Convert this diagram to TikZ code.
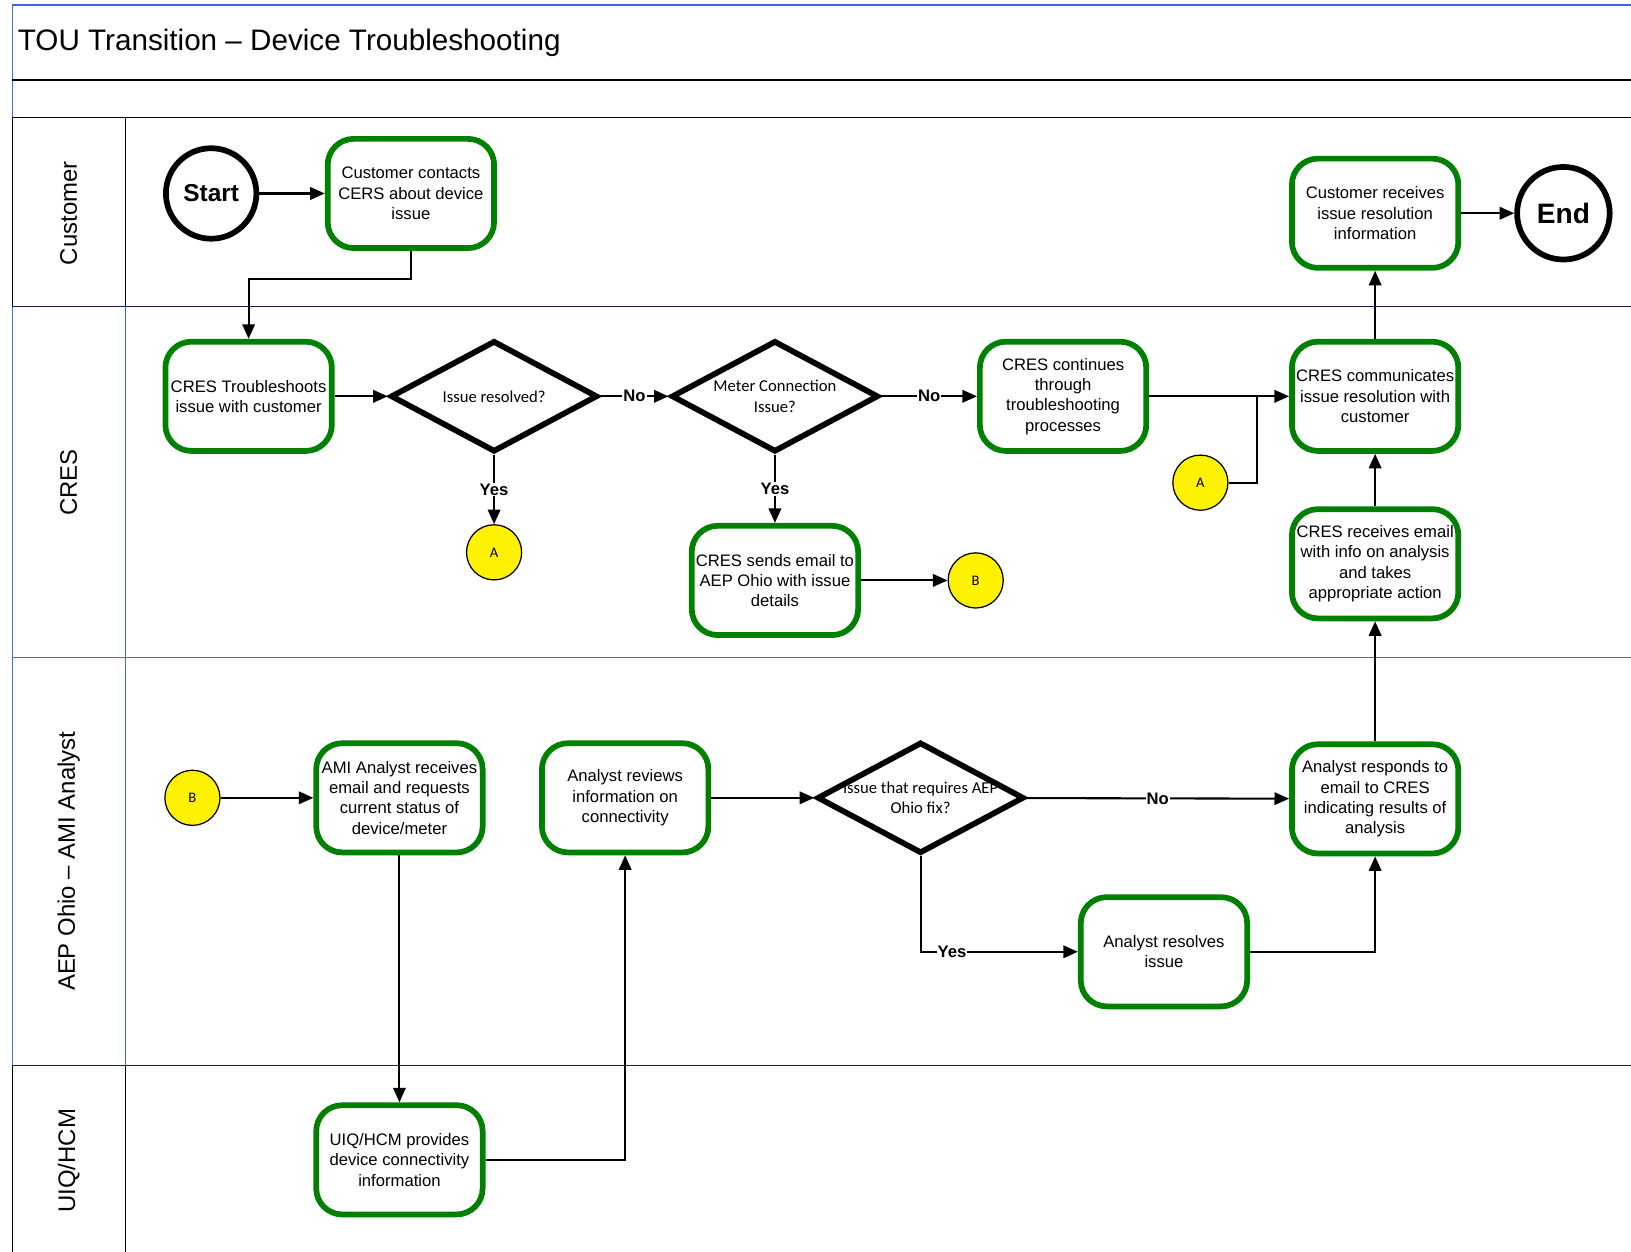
\documentclass[tikz,border=0pt]{standalone}
\usepackage{fontspec}
\setmainfont{Liberation Sans}
\newfontfamily\calib{Carlito}
\usetikzlibrary{arrows.meta,shapes.geometric}
\definecolor{lblue}{RGB}{65,105,225}
\definecolor{pgreen}{RGB}{0,128,0}
\definecolor{navy}{RGB}{20,30,70}
\begin{document}
\begin{tikzpicture}[x=1pt,y=-1pt,
 proc/.style={draw=pgreen, line width=5.5pt, rounded corners=25pt, minimum width=160pt, minimum height=105pt, align=center, font=\fontsize{16}{19.5}\selectfont, inner sep=0pt, fill=white},
 dia/.style={diamond, draw=black, line width=5.5pt, minimum width=199pt, minimum height=107pt, inner sep=0pt, fill=white},
 dtext/.style={align=center, font=\calib\fontsize{16}{19.5}\selectfont, inner sep=0pt},
 term/.style={circle, draw=black, line width=5.5pt, minimum size=87pt, inner sep=0pt, fill=white, font=\bfseries\fontsize{23.5}{26}\selectfont},
 conn/.style={circle, draw=black, line width=1.2pt, fill=yellow, minimum size=53pt, inner sep=0pt, font=\calib\fontsize{14}{16}\selectfont},
 arr/.style={line width=2pt, -{Triangle[length=14pt,width=12pt]}},
 ln/.style={line width=2pt},
 lbl/.style={fill=white, inner sep=1pt, font=\bfseries\fontsize{16}{18}\selectfont},
 lane/.style={font=\fontsize{23}{26}\selectfont, rotate=90, inner sep=0pt},
 bline/.style={line width=1.2pt},
]
\useasboundingbox (0,0) rectangle (1568,1203);
% ---------- frame and lanes ----------
\draw[bline, draw=lblue, line width=1.6pt] (12,113) -- (12,5) -- (1572,5);
\draw[bline] (12,77) -- (1572,77);
\draw[bline] (12,113) -- (1572,113);
\draw[bline] (12,113) -- (12,295);
\draw[bline] (121,113) -- (121,295);
\draw[bline, draw=lblue] (12,295) -- (12,1024);
\draw[bline, draw=lblue] (121,295) -- (121,1024);
\draw[bline, draw=lblue] (12,632) -- (1572,632);
\draw[bline, draw=navy] (12,295) -- (1572,295);
\draw[bline, draw=navy] (12,1024) -- (1572,1024);
\draw[bline] (12,1024) -- (12,1210);
\draw[bline] (121,1024) -- (121,1210);
\node[anchor=west, inner sep=0pt, font=\fontsize{28.5}{32}\selectfont] (title) at (17,41) {TOU Transition -- Device Troubleshooting};
\node[lane] (l1) at (66,205) {Customer};
\node[lane] (l2) at (66,464) {CRES};
\node[lane] (l3) at (66,828) {AEP Ohio -- AMI Analyst};
\node[lane] (l4) at (66,1116) {UIQ/HCM};
% ---------- nodes ----------
\node[term] (start) at (203,186) {Start};
\node[proc] (cc) at (395,186) {Customer contacts\\CERS about device\\issue};
\node[proc] (cr) at (1322,205) {Customer receives\\issue resolution\\information};
\node[term, minimum size=89pt, font=\bfseries\fontsize{27}{30}\selectfont] (end) at (1503,205) {End};
\node[proc] (ct) at (239,381) {CRES Troubleshoots\\issue with customer};
\node[dia] (d1) at (475,381) {};
\node[dtext] (d1t) at (475,381) {Issue resolved?};
\node[dia] (d2) at (745,381) {};
\node[dtext] (d2t) at (745,381) {Meter Connection\\Issue?};
\node[proc] (cont) at (1022,381) {CRES continues\\through\\troubleshooting\\processes};
\node[proc] (comm) at (1322,381) {CRES communicates\\issue resolution with\\customer};
\node[conn] (a1) at (475,531) {A};
\node[proc] (send) at (745,558) {CRES sends email to\\AEP Ohio with issue\\details};
\node[conn] (b1) at (938,558) {B};
\node[conn] (a2) at (1154,464) {A};
\node[proc] (recv) at (1322,542) {CRES receives email\\with info on analysis\\and takes\\appropriate action};
\node[conn] (b2) at (185,767) {B};
\node[proc] (ami) at (384,767) {AMI Analyst receives\\email and requests\\current status of\\device/meter};
\node[proc] (rev) at (601,767) {Analyst reviews\\information on\\connectivity};
\node[dia] (d3) at (885,767) {};
\node[dtext] (d3t) at (885,767) {Issue that requires AEP\\Ohio fix?};
\node[proc] (resp) at (1322,768) {Analyst responds to\\email to CRES\\indicating results of\\analysis};
\node[proc] (res) at (1119,915) {Analyst resolves\\issue};
\node[proc] (uiq) at (384,1115) {UIQ/HCM provides\\device connectivity\\information};
\coordinate (bend1) at (395,268);
\coordinate (join) at (1208,381);
% ---------- connectors ----------
\draw[arr] (start) -- (cc);
\draw[arr] (cc.south) -- (bend1) -| (ct.north);
\draw[arr] (ct) -- (d1);
\draw[arr] (d1) -- node[lbl] {No} (d2);
\draw[arr] (d1) -- node[lbl] {Yes} (a1);
\draw[arr] (d2) -- node[lbl] {No} (cont);
\draw[arr] (d2) -- node[lbl] {Yes} (send);
\draw[arr] (send) -- (b1);
\draw[arr] (cont) -- (comm);
\draw[ln] (a2.east) -| (join);
\draw[arr] (comm) -- (cr);
\draw[arr] (cr) -- (end);
\draw[arr] (recv) -- (comm);
\draw[arr] (resp) -- (recv);
\draw[arr] (b2) -- (ami);
\draw[arr] (ami) -- (uiq);
\draw[arr] (uiq.east) -| (rev.south);
\draw[arr] (rev) -- (d3);
\draw[arr] (d3) -- node[lbl] {No} (resp);
\draw[arr] (d3.south) |- node[lbl, pos=0.6] {Yes} (res.west);
\draw[arr] (res.east) -| (resp.south);
\end{tikzpicture}
\end{document}
